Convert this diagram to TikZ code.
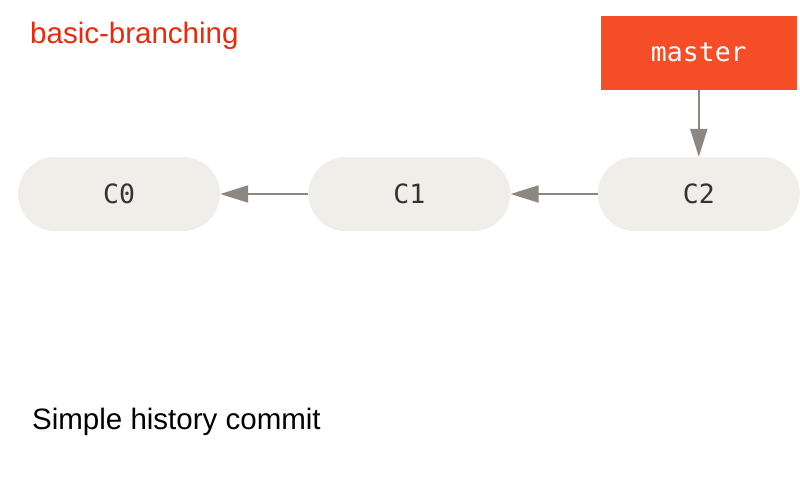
\documentclass[tikz,border=0pt]{standalone}
\usepackage{xcolor}
\usepackage{fontspec}
\setmainfont{Liberation Sans}
\setmonofont{DejaVu Sans Mono}
\usetikzlibrary{arrows.meta,positioning}
\definecolor{commitfill}{RGB}{239,238,232}
\definecolor{branchred}{RGB}{246,77,41}
\definecolor{arrowgray}{RGB}{140,135,128}
\definecolor{labelred}{RGB}{240,40,10}
\definecolor{textgray}{RGB}{51,51,51}

\begin{document}
\begin{tikzpicture}[
    x=1pt, y=-1pt,
    node distance=88pt,
    commit/.style={rectangle, rounded corners=37pt, fill=commitfill, minimum width=202pt, minimum height=74pt, inner sep=0pt, text=textgray, font=\ttfamily\fontsize{26.5}{30}\selectfont},
    branch/.style={rectangle, fill=branchred, minimum width=196pt, minimum height=74pt, inner sep=0pt, text=white, font=\ttfamily\fontsize{26.5}{30}\selectfont},
    caption/.style={anchor=base west, inner sep=0pt, font=\fontsize{29.5}{34}\selectfont},
    arrow/.style={-{Triangle[length=28pt,width=17pt]}, line width=2pt, draw=arrowgray, fill=arrowgray}
]
    \useasboundingbox (0,0) rectangle (800,480);

    \node[commit] (c0) at (119,194) {C0};
    \node[commit, right=of c0] (c1) {C1};
    \node[commit, right=87pt of c1] (c2) {C2};
    \node[branch, above=67pt of c2] (master) {master};

    \node[caption, text=labelred] (title) at (30,43) {basic-branching};
    \node[caption] (desc) at (32,429) {Simple history commit};

    \draw[arrow] (c1) -- (c0);
    \draw[arrow] (c2) -- (c1);
    \draw[arrow] (master) -- (c2);
\end{tikzpicture}
\end{document}
